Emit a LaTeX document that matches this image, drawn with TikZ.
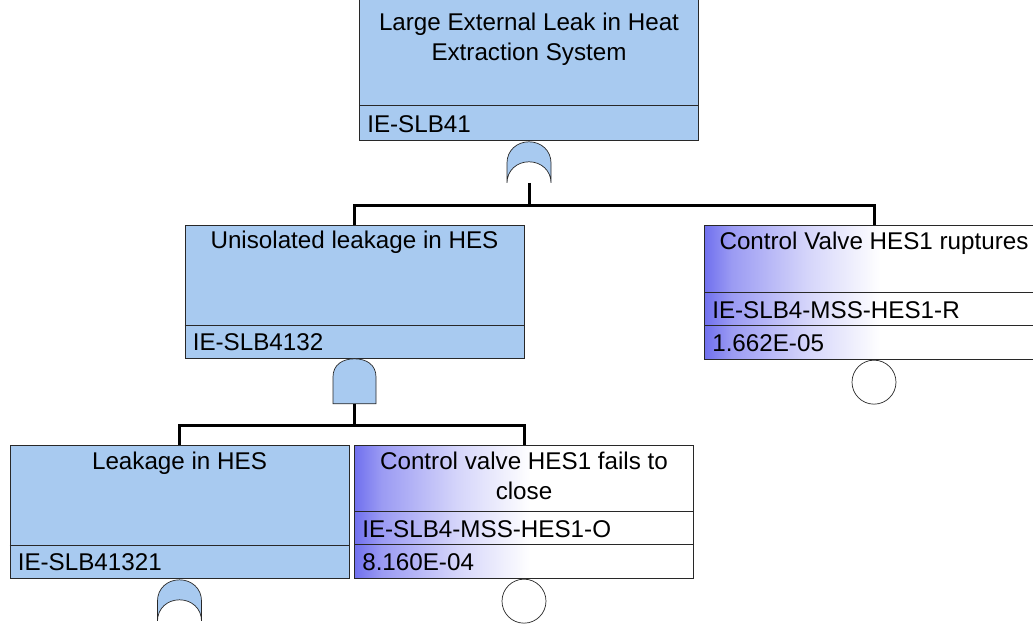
\documentclass[tikz,border=0pt]{standalone}
\usepackage{fontspec}
\setmainfont{Liberation Sans}
\usetikzlibrary{positioning,calc}
\definecolor{evblue}{RGB}{168,202,240}
\definecolor{evpurple}{RGB}{112,112,238}
\definecolor{evline}{RGB}{40,40,40}
\pgfdeclarehorizontalshading{evshade}{100bp}{color(0bp)=(evpurple); color(25bp)=(evpurple); color(29bp)=(evpurple!70!white); color(40bp)=(evpurple!30!white); color(51bp)=(white); color(100bp)=(white)}

\begin{document}
\begin{tikzpicture}[x=1pt, y=-1pt, every node/.style={font=\fontsize{24.2}{30}\selectfont},
  gatebox/.style={draw=evline, line width=0.8pt, fill=evblue, minimum width=339pt, anchor=north, inner sep=0pt},
  basicbox/.style={draw=evline, line width=0.8pt, shade, shading=evshade, minimum width=339pt, minimum height=134pt, anchor=north, inner sep=0pt},
  evtitle/.style={anchor=north, align=center, inner sep=0pt},
  evrow/.style={anchor=west, inner sep=0pt, text height=17pt, text depth=0pt},
  evsep/.style={draw=evline, line width=0.8pt},
  basiccirc/.style={circle, draw=evline, line width=0.7pt, fill=white, minimum size=44pt, inner sep=0pt, anchor=north},
  conn/.style={line width=3pt, black},
  gateshape/.style={draw=evline, line width=0.7pt, fill=evblue},
  pics/orgate/.style={code={
    \draw[gateshape] (-22,42) -- (-22,22) .. controls (-22,9.8) and (-12.2,1) .. (0,1)
      .. controls (12.2,1) and (22,9.8) .. (22,22) -- (22,42)
      .. controls (22,29.8) and (12.2,21) .. (0,21) .. controls (-12.2,21) and (-22,29.8) .. (-22,42) -- cycle;
    \coordinate (-out) at (0,42);}},
  pics/andgate/.style={code={
    \draw[gateshape] (-21.5,45) -- (-21.5,18) .. controls (-21.5,6) and (-12,0) .. (0,0)
      .. controls (12,0) and (21.5,6) .. (21.5,18) -- (21.5,45) -- cycle;
    \coordinate (-out) at (0,45);}}]

\useasboundingbox (0,0) rectangle (1033,624);

% Nodes
\node[gatebox, minimum height=146pt] (top) at (529,-6) {};
\node[evtitle] (topT) at ($(top.north)+(0,19)$) {Large External Leak in Heat\\Extraction System};
\draw[evsep] ($(top.south west)+(0,-35)$) -- ($(top.south east)+(0,-35)$);
\node[evrow] (topId) at ($(top.south west)+(8,-17)$) {IE-SLB41};

\node[gatebox, minimum height=133pt] (unis) at (354.5,225) {};
\node[evtitle] (unisT) at ($(unis.north)+(0,6)$) {Unisolated leakage in HES};
\draw[evsep] ($(unis.south west)+(0,-33)$) -- ($(unis.south east)+(0,-33)$);
\node[evrow] (unisId) at ($(unis.south west)+(8,-17)$) {IE-SLB4132};

\node[basicbox] (rupt) at (874,225) {};
\node[evtitle] (ruptT) at ($(rupt.north)+(0,7)$) {Control Valve HES1 ruptures};
\draw[evsep] ($(rupt.south west)+(0,-34)$) -- ($(rupt.south east)+(0,-34)$);
\draw[evsep] ($(rupt.south west)+(0,-67)$) -- ($(rupt.south east)+(0,-67)$);
\node[evrow] (ruptId) at ($(rupt.south west)+(8,-50)$) {IE-SLB4-MSS-HES1-R};
\node[evrow] (ruptP) at ($(rupt.south west)+(8,-17)$) {1.662E-05};
\node[basiccirc] (ruptC) at (rupt.south) {};

\node[gatebox, minimum height=133pt] (leak) at (179.5,445) {};
\node[evtitle] (leakT) at ($(leak.north)+(0,7)$) {Leakage in HES};
\draw[evsep] ($(leak.south west)+(0,-33)$) -- ($(leak.south east)+(0,-33)$);
\node[evrow] (leakId) at ($(leak.south west)+(8,-17)$) {IE-SLB41321};

\node[basicbox, minimum height=133pt] (fail) at (524,445) {};
\node[evtitle] (failT) at ($(fail.north)+(0,7)$) {Control valve HES1 fails to\\close};
\draw[evsep] ($(fail.south west)+(0,-34)$) -- ($(fail.south east)+(0,-34)$);
\draw[evsep] ($(fail.south west)+(0,-67)$) -- ($(fail.south east)+(0,-67)$);
\node[evrow] (failId) at ($(fail.south west)+(8,-50)$) {IE-SLB4-MSS-HES1-O};
\node[evrow] (failP) at ($(fail.south west)+(8,-17)$) {8.160E-04};
\node[basiccirc] (failC) at (fail.south) {};

% Gates
\pic (g1) at (top.south) {orgate};
\pic (g2) at (unis.south) {andgate};
\pic (g3) at (leak.south) {orgate};

% Connectors
\coordinate (j1) at (529,205);
\coordinate (j2) at (354.5,425);
\draw[conn] (g1-out) -- (j1);
\draw[conn] (unis.north) |- (j1) -| (rupt.north);
\draw[conn] (g2-out) -- (j2);
\draw[conn] (leak.north) |- (j2) -| (fail.north);

\end{tikzpicture}
\end{document}
